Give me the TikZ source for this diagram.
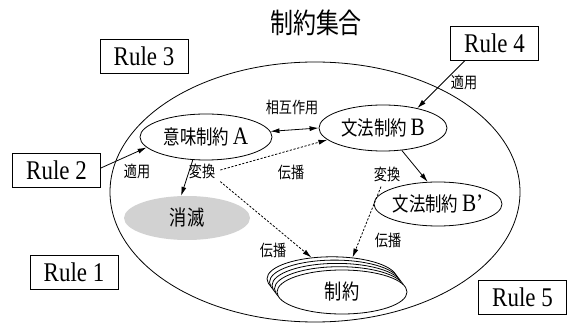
\documentclass[tikz,border=0pt]{standalone}
\usepackage{fontspec}
\setmainfont{Liberation Serif}
\newfontfamily\cjk[FakeStretch=0.82]{Noto Sans CJK JP}
\newfontfamily\rulefont[FakeStretch=0.85]{Liberation Serif}
\usetikzlibrary{shapes.geometric,arrows.meta}
\tikzset{
  rulebox/.style={draw,line width=0.8pt,minimum width=88pt,minimum height=34pt,inner sep=0pt,font=\rulefont\fontsize{27}{27}\selectfont},
  ell/.style={draw,ellipse,line width=0.8pt,inner sep=0pt,fill=white},
  lab/.style={inner sep=1pt,font=\cjk\fontsize{16}{16}\selectfont},
  arr/.style={line width=0.8pt,-{Latex[length=9pt,width=5pt]}},
  darr/.style={arr,dash pattern=on 2.2pt off 1.6pt},
}
\newcommand{\lt}[1]{{\rulefont\fontsize{25}{25}\selectfont #1}}
\begin{document}
\begin{tikzpicture}[x=1pt,y=-1pt]
\useasboundingbox (0,0) rectangle (577,328);
% big set ellipse
\node[draw,ellipse,line width=0.8pt,minimum width=410pt,minimum height=260pt] (set) at (315,192) {};
% title
\node (title) at (316,23) {\cjk\fontsize{28}{28}\selectfont 制約集合};
% rules
\node[rulebox] (R3) at (144,56.5) {Rule 3};
\node[rulebox] (R4) at (494.5,43) {Rule 4};
\node[rulebox] (R2) at (56.5,170) {Rule 2};
\node[rulebox] (R1) at (74,272) {Rule 1};
\node[rulebox] (R5) at (522.5,297.5) {Rule 5};
% constraint ellipses
\node[ell,minimum width=132pt,minimum height=46pt] (A) at (206,137) {\cjk\fontsize{20}{20}\selectfont 意味制約 \lt{A}};
\node[ell,minimum width=128pt,minimum height=46pt] (B) at (383,128) {\cjk\fontsize{20}{20}\selectfont 文法制約 \lt{B}};
\node[ell,minimum width=126pt,minimum height=44pt] (Bp) at (438,204) {\cjk\fontsize{20}{20}\selectfont 文法制約 \lt{B’}};
\node[ellipse,fill=gray!35,minimum width=126pt,minimum height=44pt,inner sep=0pt] (X) at (187,218) {\cjk\fontsize{21}{21}\selectfont 消滅};
% stack
\node[ell,minimum width=130pt,minimum height=44pt] (s4) at (332,278.8) {};
\node[ell,minimum width=130pt,minimum height=44pt] (s3) at (334.5,282.1) {};
\node[ell,minimum width=130pt,minimum height=44pt] (s2) at (337,285.4) {};
\node[ell,minimum width=130pt,minimum height=44pt] (s1) at (339.5,288.7) {};
\node[ell,minimum width=130pt,minimum height=44pt] (S) at (342,292) {\cjk\fontsize{21}{21}\selectfont 制約};
% labels
\node[lab] (l2) at (137,171) {適用};
\node[lab] (l4) at (464,82) {適用};
\node[lab] (lm) at (292,107) {相互作用};
\node[lab] (lA) at (202,171) {変換};
\node[lab] (lB) at (387,174) {変換};
\node[lab] (p1) at (291,172) {伝播};
\node[lab] (p2) at (273,250) {伝播};
\node[lab] (p3) at (388,240) {伝播};
% connectors
\draw[arr] ([yshift=2pt]R2.east) -- (A.190);
\draw[arr] ([xshift=15pt]R4.south west) -- (B.30);
\draw[arr,{Latex[length=9pt,width=5pt]}-{Latex[length=9pt,width=5pt]}] (A.5) -- (B.180);
\draw[arr] (A.240) -- (X.105);
\draw[arr] (B.-50) -- (Bp.115);
\draw[darr] ([xshift=4pt,yshift=1pt]lA.east) -- (B.192);
\draw[darr] ([xshift=4pt,yshift=-2pt]lA.south east) -- (s4.134);
\draw[darr] ([xshift=-6pt,yshift=-4pt]lB.south) -- (s4.46);
\end{tikzpicture}
\end{document}
